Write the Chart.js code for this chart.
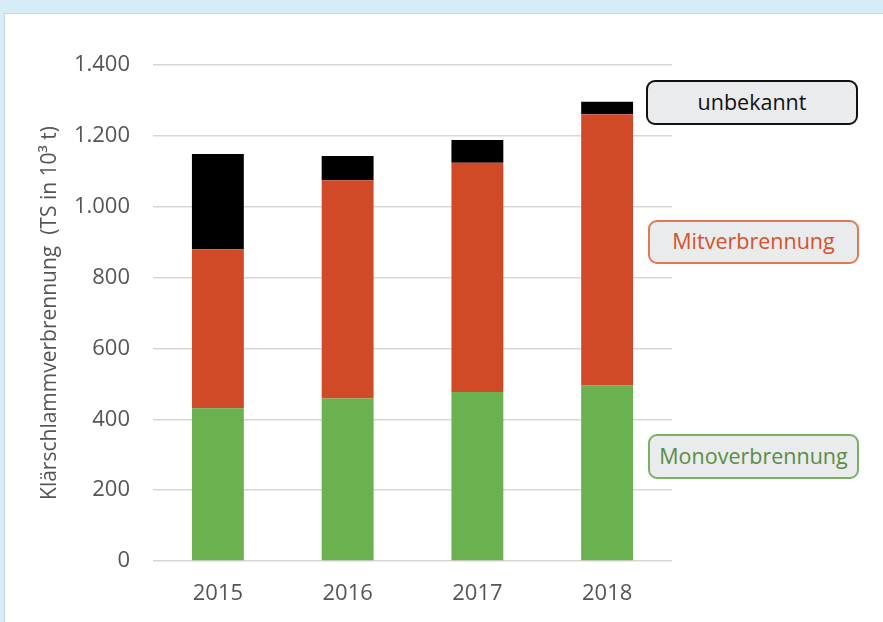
<!DOCTYPE html>
<html>
<head>
<meta charset="utf-8">
<script src="https://cdn.jsdelivr.net/npm/chart.js@4/dist/chart.umd.min.js"></script>
<style>
  html, body { margin: 0; padding: 0; }
  body { width: 883px; height: 622px; background: #d6edf8; position: relative; overflow: hidden; font-family: 'Open Sans', sans-serif; }
  .panel { position: absolute; left: 4px; top: 13px; right: -2px; bottom: -2px; background: #fff; border: 1px solid #c4d8e3; }
  #wrap { position: absolute; left: 0; top: 0; width: 883px; height: 622px; }
  .tag { position: absolute; box-sizing: border-box; border-radius: 9px; background: #e9ebed; text-align: center; font-size: 21.5px; }
</style>
</head>
<body>
<div class="panel"></div>
<div id="wrap"><canvas id="chart" width="883" height="622"></canvas></div>
<div id="tags"></div>
<script>
// ── Data ──────────
const years = ['2015', '2016', '2017', '2018'];
const mono = [431, 459, 477, 496];
const mit = [449, 616, 647, 765];
const unbekannt = [269, 68, 64, 35];
const yTicks = [0, 200, 400, 600, 800, 1000, 1200, 1400];

const seriesLabels = ['Monoverbrennung', 'Mitverbrennung', 'unbekannt'];
const seriesColors = ['#6ab150', '#d04a27', '#000000'];

// German thousands separator
function fmt(v) {
    const s = String(v);
    return s.length > 3 ? s.slice(0, -3) + '.' + s.slice(-3) : s;
}

const ctx = document.getElementById('chart');
new Chart(ctx, {
    type: 'bar',
    data: {
        labels: years,
        datasets: [
            { label: seriesLabels[0], data: mono, backgroundColor: seriesColors[0] },
            { label: seriesLabels[1], data: mit, backgroundColor: seriesColors[1] },
            { label: seriesLabels[2], data: unbekannt, backgroundColor: seriesColors[2] }
        ]
    },
    options: {
        responsive: false, animation: false,
        layout: { padding: { left: 0, right: 211, top: 65, bottom: 15 } },
        datasets: { bar: { categoryPercentage: 1, barPercentage: 0.4 } },
        plugins: { legend: { display: false }, tooltip: { enabled: false } },
        scales: {
            x: {
                stacked: true,
                grid: { display: false, drawTicks: false },
                border: { display: false },
                ticks: { color: '#555555', font: { family: 'Open Sans', size: 22 }, padding: 20 },
                afterFit: s => { s.height = 46; }
            },
            y: {
                stacked: true, min: 0, max: 1400,
                afterBuildTicks: s => { s.ticks = yTicks.map(v => ({ value: v })); },
                grid: { color: '#d9d5d5', lineWidth: 1.5, drawTicks: false },
                border: { display: false },
                ticks: { color: '#555555', font: { family: 'Open Sans', size: 22 }, padding: 23, callback: v => fmt(v) },
                title: {
                    display: true,
                    text: 'Klärschlammverbrennung  (TS in 10³ t)',
                    color: '#555555',
                    font: { family: 'Open Sans', size: 21 },
                    padding: { top: 37, bottom: 0 }
                },
                afterFit: s => { s.width = 153; }
            }
        }
    }
});

// Legend tags on the right
const tagBoxes = [
    { i: 2, left: 646, top: 80, width: 212, height: 45, border: '#111111', text: '#111111' },
    { i: 1, left: 648, top: 220, width: 211, height: 44, border: '#df7a55', text: '#d4532d' },
    { i: 0, left: 648, top: 434, width: 211, height: 45, border: '#77b35e', text: '#5b8c47' }
];
const tags = document.getElementById('tags');
tags.innerHTML = tagBoxes.map(t => `
  <div class="tag" style="left:${t.left}px;top:${t.top}px;width:${t.width}px;height:${t.height}px;line-height:${t.height - 6}px;border:2.5px solid ${t.border};color:${t.text};">${seriesLabels[t.i]}</div>`).join('');
</script>
</body>
</html>
